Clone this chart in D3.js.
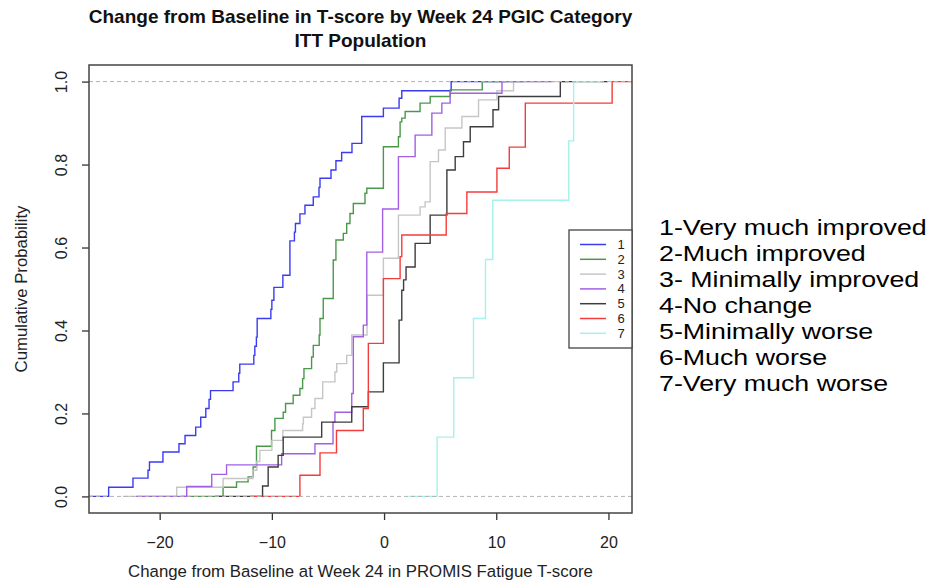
<!DOCTYPE html>
<html>
<head>
<meta charset="utf-8">
<script src="https://cdn.jsdelivr.net/npm/d3@7"></script>
<style>
  body { margin: 0; background: #fff; }
  text { font-family: Arial, "Liberation Sans", sans-serif; }
</style>
</head>
<body>
<div id="chart"></div>
<script>
// PGIC categories (legend keys and the long names shown to the right)
const groups = ["1", "2", "3", "4", "5", "6", "7"];
const groupNames = [
  "1-Very much improved",
  "2-Much improved",
  "3- Minimally improved",
  "4-No change",
  "5-Minimally worse",
  "6-Much worse",
  "7-Very much worse"
];

// ECDF jump points (change in T-score) and cumulative probability after each jump
const knots1 = [-24.55, -22.38, -21.04, -20.91, -19.71, -18.28, -17.74, -16.79, -16.34, -15.89,
  -15.6, -15.47, -13.46, -12.95, -12.86, -11.61, -11.52, -11.38, -11.31, -10.09,
  -10.0, -9.82, -9.02, -8.39, -7.99, -7.9, -7.5, -7.05, -6.31, -5.8,
  -5.71, -4.73, -4.29, -3.78, -2.86, -1.99, -0.06, 1.34, 1.58, 5.98];
const prob1 = [0.022, 0.044, 0.063, 0.083, 0.107, 0.127, 0.147, 0.167, 0.191, 0.212,
  0.234, 0.255, 0.276, 0.297, 0.319, 0.340, 0.362, 0.384, 0.429, 0.451,
  0.473, 0.504, 0.533, 0.616, 0.637, 0.658, 0.681, 0.702, 0.722, 0.745,
  0.767, 0.787, 0.809, 0.829, 0.851, 0.916, 0.936, 0.960, 0.978, 1.0];

const knots2 = [-14.35, -13.15, -12.12, -11.67, -11.37, -10.03, -9.73, -8.99, -8.78, -8.10,
  -7.5, -7.26, -7.14, -6.46, -6.31, -5.78, -5.71, -5.42, -4.53, -4.29,
  -3.63, -3.33, -3.04, -2.74, -1.70, -1.54, -0.06, 1.28, 1.43, 1.58,
  1.88, 3.21, 4.11, 5.89, 8.75];
const prob2 = [0.022, 0.035, 0.047, 0.071, 0.121, 0.159, 0.188, 0.203, 0.224, 0.244,
  0.260, 0.284, 0.308, 0.336, 0.364, 0.389, 0.429, 0.477, 0.570, 0.618,
  0.634, 0.658, 0.682, 0.706, 0.731, 0.743, 0.843, 0.867, 0.903, 0.912,
  0.928, 0.948, 0.964, 0.980, 1.0];

const knots3 = [-18.48, -14.35, -11.70, -11.34, -11.07, -10.0, -9.02, -7.26, -7.19, -6.46,
  -6.16, -5.47, -4.38, -4.22, -3.33, -2.88, -1.52, -0.06, 1.28, 3.21,
  3.66, 4.11, 4.85, 5.45, 6.94, 8.42, 10.06, 11.54];
const prob3 = [0.022, 0.043, 0.063, 0.084, 0.111, 0.135, 0.159, 0.175, 0.191, 0.212,
  0.236, 0.276, 0.300, 0.320, 0.340, 0.389, 0.485, 0.574, 0.678, 0.698,
  0.710, 0.807, 0.835, 0.888, 0.916, 0.956, 0.978, 1.0];

const knots4 = [-17.59, -15.36, -14.04, -9.13, -6.16, -4.55, -4.38, -2.88, -2.74, -1.85,
  -1.54, -0.13, 1.28, 2.77, 4.26, 5.15, 5.89, 10.51];
const prob4 = [0.024, 0.053, 0.076, 0.103, 0.127, 0.179, 0.203, 0.248, 0.385, 0.413,
  0.589, 0.693, 0.819, 0.871, 0.924, 0.948, 0.972, 1.0];

const knots5 = [-10.83, -10.33, -9.44, -8.99, -5.56, -2.88, -1.40, -0.06, 1.34, 1.58,
  1.74, 1.96, 2.77, 4.11, 5.60, 6.34, 7.08, 7.68, 9.71, 10.21, 15.71];
const prob5 = [0.025, 0.071, 0.099, 0.143, 0.179, 0.216, 0.252, 0.322, 0.425, 0.497,
  0.522, 0.553, 0.610, 0.678, 0.787, 0.819, 0.855, 0.891, 0.932, 0.964, 1.0];

const knots6 = [-7.5, -5.71, -4.24, -1.85, -1.40, -0.06, 1.43, 1.58, 5.54, 7.38,
  10.06, 11.16, 12.59, 20.33];
const prob6 = [0.051, 0.105, 0.159, 0.212, 0.369, 0.525, 0.578, 0.630, 0.682, 0.734,
  0.791, 0.842, 0.948, 1.0];

const knots7 = [4.73, 6.21, 7.97, 9.04, 9.69, 16.46, 16.90];
const prob7 = [0.143, 0.286, 0.429, 0.571, 0.714, 0.857, 1.0];

const xTicks = [-20, -10, 0, 10, 20];
const yTicks = [0, 0.2, 0.4, 0.6, 0.8, 1.0];

const colors = ["#3b3bf2", "#4b984b", "#c6c6c6", "#a35fe3", "#3d3d3d", "#f43c3c", "#a6f1ea"];

const allKnots = [knots1, knots2, knots3, knots4, knots5, knots6, knots7];
const allProb = [prob1, prob2, prob3, prob4, prob5, prob6, prob7];

const W = 937, H = 588;
const margin = { top: 65, right: 305, bottom: 75, left: 89 };
const width = W - margin.left - margin.right;
const height = H - margin.top - margin.bottom;
const FONT = "Arial, 'Liberation Sans', sans-serif";

const svg = d3.select("#chart")
  .append("svg")
  .attr("width", W)
  .attr("height", H);

const g = svg.append("g")
  .attr("transform", `translate(${margin.left},${margin.top})`);

const x = d3.scaleLinear().domain([-26.3, 22.1]).range([0, width]);
const y = d3.scaleLinear().domain([-0.04, 1.04]).range([height, 0]);

g.append("clipPath").attr("id", "plotclip")
  .append("rect").attr("width", width).attr("height", height);

const series = groups.map((name, i) => {
  const k = allKnots[i];
  // same side extension as R's plot.stepfun when added to a plot
  const dr = Math.max(0.08 * (d3.max(k) - d3.min(k)), d3.median(d3.pairs(k, (a, b) => b - a)));
  const pts = [[d3.min(k) - 2 * dr, 0]]
    .concat(k.map((v, j) => [v, allProb[i][j]]))
    .concat([[d3.max(k) + 2 * dr, 1]]);
  return { name, pts, color: colors[i] };
});

const line = d3.line()
  .x(d => x(d[0]))
  .y(d => y(d[1]))
  .curve(d3.curveStepAfter);

const plot = g.append("g").attr("clip-path", "url(#plotclip)");

plot.selectAll("path.ecdf")
  .data(series)
  .enter()
  .append("path")
  .attr("class", "ecdf")
  .attr("d", d => line(d.pts))
  .attr("fill", "none")
  .attr("stroke", d => d.color)
  .attr("stroke-width", 1.4);

plot.selectAll("line.hline")
  .data([0, 1])
  .enter()
  .append("line")
  .attr("x1", 0)
  .attr("x2", width)
  .attr("y1", d => y(d))
  .attr("y2", d => y(d))
  .attr("stroke", "#b3b3b3")
  .attr("stroke-width", 1)
  .attr("stroke-dasharray", "4,3");

// axes
const xAxis = g.append("g")
  .attr("transform", `translate(0,${height})`)
  .call(d3.axisBottom(x).tickValues(xTicks).tickSize(7).tickPadding(17));
xAxis.select(".domain").remove();
xAxis.selectAll("line").attr("stroke", "#333").attr("stroke-width", 1.3);
xAxis.selectAll("text").attr("font-size", 16).attr("fill", "#222").attr("font-family", FONT);

const yAxis = g.append("g")
  .call(d3.axisLeft(y).tickValues(yTicks).tickFormat(d3.format(".1f")).tickSize(7));
yAxis.select(".domain").remove();
yAxis.selectAll("line").attr("stroke", "#333").attr("stroke-width", 1.3);
yAxis.selectAll("text")
  .attr("x", null).attr("dy", null)
  .attr("text-anchor", "middle")
  .attr("transform", "translate(-22,0) rotate(-90)")
  .attr("font-size", 16).attr("fill", "#222")
  .attr("font-family", FONT);

// plot frame
g.append("rect")
  .attr("width", width)
  .attr("height", height)
  .attr("fill", "none")
  .attr("stroke", "#444")
  .attr("stroke-width", 1.5);

// titles
svg.append("text")
  .attr("x", margin.left + width / 2).attr("y", 23)
  .attr("text-anchor", "middle").attr("font-weight", "bold").attr("font-size", 19)
  .attr("fill", "#111")
  .text("Change from Baseline in T-score by Week 24 PGIC Category");
svg.append("text")
  .attr("x", margin.left + width / 2).attr("y", 47)
  .attr("text-anchor", "middle").attr("font-weight", "bold").attr("font-size", 19)
  .attr("fill", "#111")
  .text("ITT Population");

svg.append("text")
  .attr("x", margin.left + width / 2).attr("y", 577)
  .attr("text-anchor", "middle").attr("font-size", 16.8).attr("fill", "#222")
  .text("Change from Baseline at Week 24 in PROMIS Fatigue T-score");

svg.append("text")
  .attr("transform", `translate(27,${margin.top + height / 2}) rotate(-90)`)
  .attr("text-anchor", "middle").attr("font-size", 16.8).attr("fill", "#222")
  .text("Cumulative Probability");

// legend box inside the plot
const lg = g.append("g").attr("transform", `translate(${width - 63},165)`);
lg.append("rect")
  .attr("width", 63).attr("height", 118)
  .attr("fill", "#fff").attr("stroke", "#444").attr("stroke-width", 1.3);
const items = lg.selectAll("g.item")
  .data(series)
  .enter()
  .append("g")
  .attr("transform", (d, i) => `translate(0,${14.5 + i * 14.8})`);
items.append("line")
  .attr("x1", 11).attr("x2", 37)
  .attr("stroke", d => d.color).attr("stroke-width", 1.5);
items.append("text")
  .attr("x", 52).attr("dy", "0.35em")
  .attr("text-anchor", "middle").attr("font-size", 13).attr("fill", "#222")
  .text(d => d.name);

// category names to the right of the chart (the reference text is set wide)
const cats = svg.append("g").attr("transform", "translate(659,0) scale(1.19,1)");
cats.selectAll("text.cat")
  .data(groupNames)
  .enter()
  .append("text")
  .attr("class", "cat")
  .attr("x", 0)
  .attr("y", (d, i) => 235 + i * 26)
  .attr("font-size", 22.5)
  .attr("fill", "#000")
  .text(d => d);
</script>
</body>
</html>
